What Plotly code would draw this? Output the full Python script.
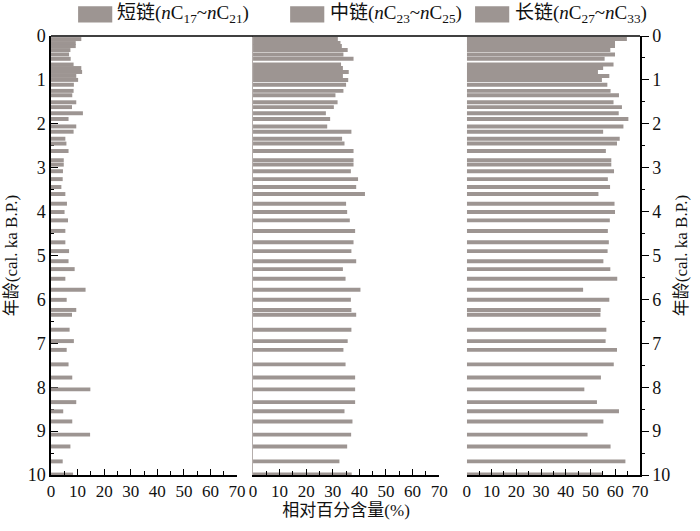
import plotly.graph_objects as go

# Sample ages (cal. ka B.P.)
ages = [0.07, 0.16, 0.23, 0.32, 0.42, 0.52, 0.65, 0.73, 0.82, 0.91, 1.00, 1.11,
        1.25, 1.35, 1.51, 1.62, 1.76, 1.89, 2.06, 2.18, 2.34, 2.45, 2.62, 2.83,
        2.93, 3.08, 3.26, 3.44, 3.60, 3.82, 4.01, 4.20, 4.44, 4.70, 4.90, 5.13,
        5.31, 5.53, 5.78, 6.01, 6.24, 6.35, 6.69, 6.95, 7.15, 7.48, 7.78, 8.05,
        8.34, 8.55, 8.78, 9.08, 9.35, 9.69, 9.99]

# Short chain nC17~nC21 (%)
short_chain = [11.4, 9.3, 9.3, 7.3, 6.8, 7.4, 8.5, 11.4, 11.7, 9.5, 10.2, 8.6,
               8.5, 8.0, 9.5, 7.9, 12.0, 6.6, 9.5, 8.5, 5.4, 5.8, 6.6, 4.8,
               4.8, 4.5, 4.4, 3.9, 5.4, 6.0, 5.1, 6.4, 5.4, 5.4, 6.8, 6.6,
               8.9, 5.4, 13.0, 5.9, 9.5, 7.9, 7.0, 8.6, 5.9, 6.6, 8.0, 14.8,
               9.5, 4.6, 8.0, 14.7, 7.3, 4.4, 8.3]

# Middle chain nC23~nC25 (%)
mid_chain = [31.9, 32.9, 33.4, 35.6, 34.0, 37.8, 33.1, 33.8, 36.0, 33.8, 35.8, 35.0,
             34.0, 31.0, 31.8, 30.4, 27.4, 29.0, 27.9, 37.0, 33.5, 34.4, 37.8, 37.8,
             37.8, 36.8, 39.5, 38.8, 42.1, 35.0, 35.4, 36.4, 38.4, 37.8, 37.0, 38.8,
             33.8, 34.8, 40.4, 36.8, 37.0, 38.8, 37.0, 35.6, 34.0, 34.8, 38.4, 38.4,
             38.4, 34.4, 37.4, 36.9, 35.4, 32.5, 37.1]

# Long chain nC27~nC33 (%)
long_chain = [64.7, 59.9, 59.9, 58.0, 59.9, 55.7, 59.3, 55.1, 53.0, 57.6, 54.6, 56.8,
              58.1, 61.5, 59.3, 62.7, 61.4, 65.3, 63.3, 55.1, 61.8, 60.7, 56.2, 58.4,
              58.4, 59.5, 57.0, 57.9, 53.2, 59.7, 59.9, 57.8, 57.0, 57.4, 56.9, 55.2,
              58.0, 60.8, 47.0, 57.6, 54.1, 54.0, 56.4, 56.1, 60.7, 59.4, 54.2, 47.5,
              52.6, 61.5, 55.2, 48.8, 58.1, 64.1, 54.6]

series_names = ["短链(<i>n</i>C<sub>17</sub>~<i>n</i>C<sub>21</sub>)",
                "中链(<i>n</i>C<sub>23</sub>~<i>n</i>C<sub>25</sub>)",
                "长链(<i>n</i>C<sub>27</sub>~<i>n</i>C<sub>33</sub>)"]
x_tick_vals = [0, 10, 20, 30, 40, 50, 60, 70]
y_tick_vals = [0, 1, 2, 3, 4, 5, 6, 7, 8, 9, 10]

BAR = "#9d9592"
FONT = "Liberation Serif, 'Noto Sans CJK SC', serif"

fig = go.Figure()
for i, vals in enumerate([short_chain, mid_chain, long_chain]):
    sfx = "" if i == 0 else str(i + 1)
    fig.add_trace(go.Bar(
        x=vals, y=ages, orientation="h", width=0.09,
        marker=dict(color=BAR, line=dict(width=0)),
        xaxis="x" + sfx, yaxis="y" + sfx, name=series_names[i], showlegend=False))

domains = [[0.0, 0.316], [0.343, 0.659], [0.706, 1.0]]
for i, dom in enumerate(domains):
    key = "xaxis" if i == 0 else f"xaxis{i+1}"
    anchor = "y" if i == 0 else f"y{i+1}"
    fig.layout[key] = dict(
        domain=dom, anchor=anchor, range=[0, 70], automargin=False,
        showline=True, linecolor="black", linewidth=1.5,
        ticks="inside", ticklen=6, tickwidth=1.2, tickcolor="black",
        tickvals=x_tick_vals,
        minor=dict(dtick=5, ticks="inside", ticklen=4, tickwidth=1.2, tickcolor="black"),
        tickfont=dict(size=17, color="#111", family=FONT),
        showgrid=False, zeroline=False, fixedrange=True)

fig.layout.xaxis2.title = dict(text="相对百分含量(%)", font=dict(size=17, color="#111", family=FONT),
                               standoff=4)

ytitle = dict(text="年龄(cal. ka B.P.)", font=dict(size=17, color="#111", family=FONT), standoff=6)
fig.update_layout(
    yaxis=dict(anchor="x", range=[10, 0], automargin=False, showline=True, linecolor="black",
               linewidth=1.5,
               ticks="inside", ticklen=7, tickwidth=1.2, tickcolor="black", layer="below traces",
               tickvals=y_tick_vals,
               minor=dict(dtick=0.5, ticks="inside", ticklen=3, tickwidth=1.2, tickcolor="black"),
               tickfont=dict(size=18, color="#111", family=FONT),
               showgrid=False, zeroline=False, title=ytitle, fixedrange=True),
    yaxis2=dict(anchor="x2", matches="y", range=[10, 0], automargin=False, showline=True,
                linecolor="#b5aeac", linewidth=1, ticks="", showticklabels=False,
                showgrid=False, zeroline=False, fixedrange=True),
    yaxis3=dict(anchor="x3", matches="y", range=[10, 0], automargin=False, side="right",
                showline=True, linecolor="black", linewidth=1.5,
                ticks="outside", ticklen=7, tickwidth=1.2, tickcolor="black",
                tickvals=y_tick_vals,
                minor=dict(dtick=0.5, ticks="outside", ticklen=3, tickwidth=1.2, tickcolor="black"),
                tickfont=dict(size=18, color="#111", family=FONT),
                showgrid=False, zeroline=False, title=ytitle, fixedrange=True),
)

# Top frame line across all panels
fig.add_shape(type="line", xref="paper", yref="paper", x0=0, x1=1, y0=1, y1=1,
              line=dict(color="black", width=1.5))

# Legend (manual, to match large swatches)
box_x = [(0.046, 0.104), (0.406, 0.464), (0.720, 0.778)]
text_x = [0.108, 0.470, 0.785]
for (bx0, bx1), tx, name in zip(box_x, text_x, series_names):
    fig.add_shape(type="rect", xref="paper", yref="paper", x0=bx0, x1=bx1, y0=1.031, y1=1.068,
                  fillcolor=BAR, line=dict(width=0))
    fig.add_annotation(xref="paper", yref="paper", x=tx, y=1.049, xanchor="left", yanchor="middle",
                       text=name, showarrow=False, font=dict(size=19, color="#111", family=FONT))

fig.update_layout(
    width=700, height=531,
    margin=dict(l=51, r=60, t=36, b=56, autoexpand=False),
    paper_bgcolor="white", plot_bgcolor="white",
    font=dict(family=FONT, color="#111"),
    showlegend=False,
)

fig.write_html("out.html", config={"displayModeBar": False},
               post_script="document.body.style.margin='0';document.body.style.padding='0';")
